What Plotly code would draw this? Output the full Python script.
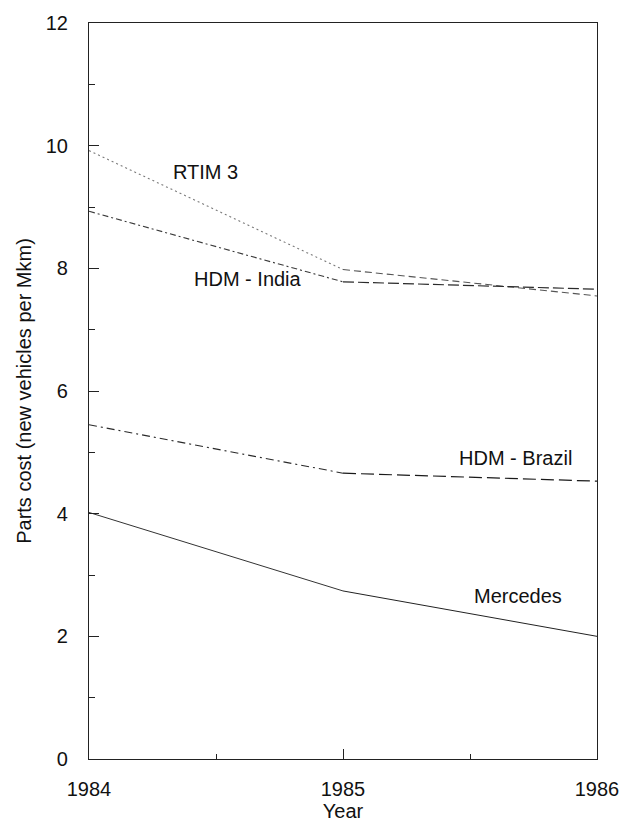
import plotly.graph_objects as go

# Parts cost trends for new vehicles (per million km)
years = [1984, 1985, 1986]
rtim3 = [9.92, 7.98, 7.55]
hdm_india = [8.93, 7.78, 7.66]
hdm_brazil = [5.45, 4.66, 4.53]
mercedes = [4.02, 2.74, 2.0]

x_ticks = [1984, 1985, 1986]
y_ticks = [0, 2, 4, 6, 8, 10, 12]

# each series: (name, values, style for 1984-85 segment, style for 1985-86 segment)
series = [
    ("RTIM 3", rtim3,
     dict(color="#7a7a7a", width=1.1, dash="2px,3px"),
     dict(color="#555555", width=1.1, dash="7px,4px")),
    ("HDM - India", hdm_india,
     dict(color="#3a3a3a", width=1.1, dash="6px,3px,2px,3px"),
     dict(color="#2a2a2a", width=1.2, dash="11px,4px")),
    ("HDM - Brazil", hdm_brazil,
     dict(color="#2a2a2a", width=1.1, dash="8px,4px,2px,4px"),
     dict(color="#1a1a1a", width=1.2, dash="13px,5px")),
    ("Mercedes", mercedes,
     dict(color="#333333", width=1.0, dash="solid"),
     dict(color="#222222", width=1.0, dash="solid")),
]

# label anchor positions in data coordinates
labels = [
    ("RTIM 3", 1984.46, 9.57),
    ("HDM - India", 1984.626, 7.83),
    ("HDM - Brazil", 1985.68, 4.91),
    ("Mercedes", 1985.69, 2.66),
]

fig = go.Figure()
for name, vals, style_a, style_b in series:
    fig.add_trace(go.Scatter(x=years[0:2], y=vals[0:2], mode="lines", name=name,
                             line=style_a, showlegend=False))
    fig.add_trace(go.Scatter(x=years[1:3], y=vals[1:3], mode="lines", name=name,
                             line=style_b, showlegend=False))

text_font = dict(family="Liberation Sans, Arial, sans-serif", size=20, color="#111")

for text, lx, ly in labels:
    fig.add_annotation(x=lx, y=ly, text=text, showarrow=False,
                       font=text_font, xanchor="center", yanchor="middle")

fig.update_layout(
    width=622, height=825,
    margin=dict(l=89, r=25, t=23, b=66),
    paper_bgcolor="white", plot_bgcolor="white",
    font=text_font,
    xaxis=dict(
        range=[1984, 1986], tickvals=x_ticks, ticktext=[str(v) for v in x_ticks],
        ticks="inside", ticklen=10, tickwidth=1, tickcolor="#222",
        showline=True, linecolor="#222", linewidth=1.2, mirror=True,
        showgrid=False, zeroline=False, automargin=False,
        minor=dict(dtick=0.5, tick0=1984, ticks="inside", ticklen=5,
                   tickcolor="#222", showgrid=False),
        title=dict(text="Year", standoff=2, font=text_font),
        ticklabelstandoff=12,
    ),
    yaxis=dict(
        range=[0, 12], tickvals=y_ticks,
        ticks="inside", ticklen=10, tickwidth=1, tickcolor="#222",
        showline=True, linecolor="#222", linewidth=1.2, mirror=True,
        showgrid=False, zeroline=False, automargin=False,
        minor=dict(dtick=1, tick0=0, ticks="inside", ticklen=6,
                   tickcolor="#222", showgrid=False),
        title=dict(text="Parts cost (new vehicles per Mkm)", standoff=8,
                   font=text_font),
        ticklabelstandoff=16,
    ),
)

fig.write_html("out.html")
